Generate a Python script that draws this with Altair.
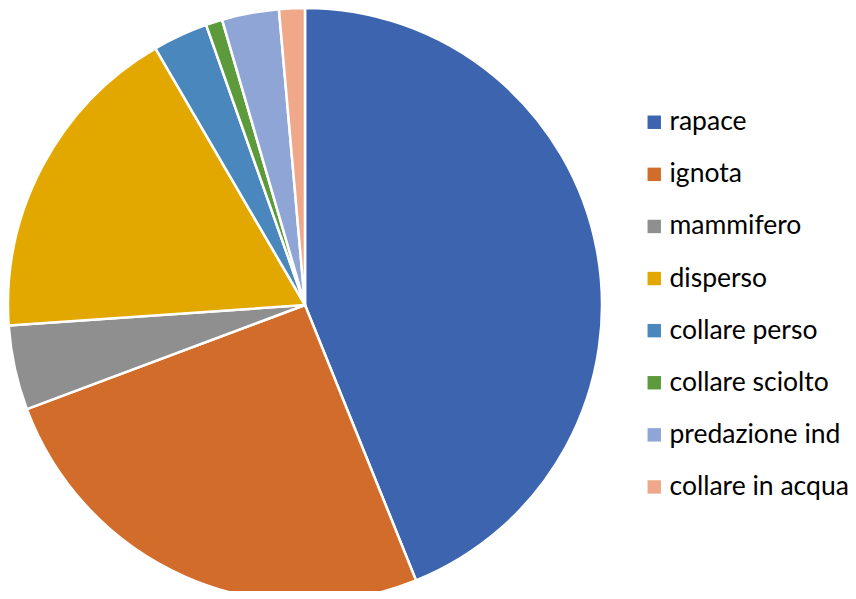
import altair as alt
import pandas as pd

categories = ["rapace", "ignota", "mammifero", "disperso", "collare perso",
              "collare sciolto", "predazione ind", "collare in acqua"]
values = [43.9, 25.4, 4.6, 17.7, 3.0, 0.9, 3.1, 1.4]
colors = ["#3D64AE", "#D26C2B", "#8F8F8F", "#E2A800", "#4A87BD",
          "#5C9A3B", "#8FA5D6", "#F0A88A"]

df = pd.DataFrame({"cat": categories, "val": values, "ord": list(range(len(categories)))})

chart = alt.Chart(df).mark_arc(radius=297, stroke="white", strokeWidth=2.5).encode(
    theta=alt.Theta("val:Q", stack=True),
    order=alt.Order("ord:Q"),
    x=alt.value(297),
    y=alt.value(297),
    color=alt.Color(
        "cat:N",
        scale=alt.Scale(domain=categories, range=colors),
        sort=categories,
        legend=alt.Legend(
            title=None,
            orient="none",
            legendX=633,
            legendY=101,
            symbolType="square",
            symbolSize=180,
            symbolStrokeWidth=0,
            labelFontSize=26.5,
            labelFont="Lato",
            labelColor="#000000",
            labelOffset=2,
            rowPadding=25.1,
            padding=0,
            labelLimit=400,
        ),
    ),
).properties(
    width=840, height=583, padding=0, autosize=alt.AutoSizeParams(type="none")
).configure_view(stroke=None)

chart.save("out.html", embed_options={"renderer": "svg", "actions": False})
